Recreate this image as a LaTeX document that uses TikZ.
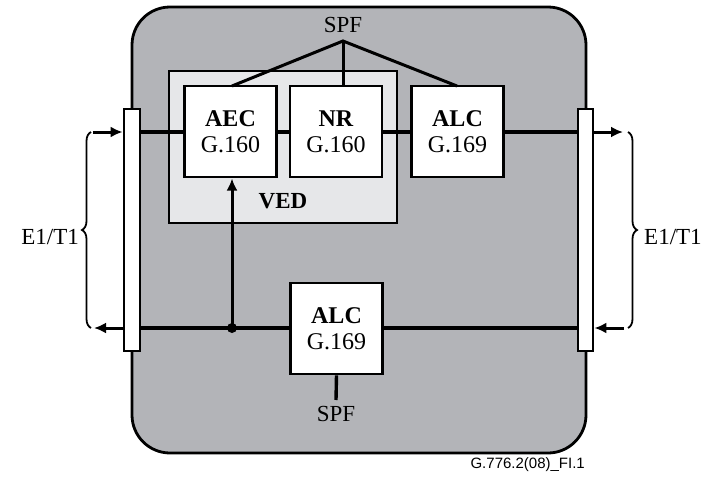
\documentclass[tikz,border=0pt]{standalone}
\usepackage{fontspec}
\setmainfont{Liberation Serif}
\newfontfamily\footfont{Liberation Sans}
\usetikzlibrary{arrows.meta,decorations.pathreplacing}
\definecolor{outergray}{HTML}{B3B4B8}
\definecolor{vedgray}{HTML}{E6E7E9}
\tikzset{
  blk/.style={draw=black,line width=2.8pt,fill=white,minimum width=92pt,minimum height=91pt,inner sep=0pt,align=center,font=\fontsize{24}{26}\selectfont},
  sig/.style={line width=3.4pt},
  arr/.style={line width=3pt,-{Latex[length=12pt,width=11pt]}},
  lbl/.style={font=\fontsize{23}{25}\selectfont,inner sep=0pt},
  bar/.style={draw=black,line width=2.8pt,fill=white},
  brace/.style={line width=1.8pt,decorate,decoration={brace,amplitude=9pt}}
}
\begin{document}
\begin{tikzpicture}[x=1pt,y=-1pt]
\useasboundingbox (0,0) rectangle (705,477);
% outer box
\draw[fill=outergray,line width=2.8pt,rounded corners=38pt] (132,7) rectangle (586,453);
% VED
\draw[fill=vedgray,line width=2.8pt] (169,71) rectangle (397,223);
\node[font=\bfseries\fontsize{23}{25}\selectfont] (ved) at (283,201) {VED};
% blocks
\node[blk] (aec) at (230.5,131.5) {\textbf{AEC}\\G.160};
\node[blk] (nr) at (336,131.5) {\textbf{NR}\\G.160};
\node[blk] (alc1) at (457.5,131.5) {\textbf{ALC}\\G.169};
\node[blk] (alc2) at (336.5,328.5) {\textbf{ALC}\\G.169};
% bars
\node[bar,minimum width=16pt,minimum height=242pt,inner sep=0pt] (lbar) at (132,230) {};
\node[bar,minimum width=15pt,minimum height=242pt,inner sep=0pt] (rbar) at (585.5,230) {};
% upper path
\draw[sig] (lbar.east |- 0,132) -- (aec.west |- 0,132);
\draw[sig] (aec.east |- 0,132) -- (nr.west |- 0,132);
\draw[sig] (nr.east |- 0,132) -- (alc1.west |- 0,132);
\draw[sig] (alc1.east |- 0,132) -- (rbar.west |- 0,132);
% lower path
\draw[sig] (rbar.west |- 0,328) -- (alc2.east |- 0,328);
\draw[sig] (alc2.west |- 0,328) -- (lbar.east |- 0,328);
\coordinate (jn) at (232,328);
\fill (jn) circle (5pt);
\draw[arr] (jn) -- (232,178.5);
% SPF top
\node[lbl] (spft) at (343,25) {SPF};
\coordinate (spfj) at (343,41);
\draw[line width=3pt,line join=miter] (232,86) -- (spfj) -- (457,86);
\draw[line width=3pt] (spfj) -- (spfj |- nr.north);
% SPF bottom
\node[lbl] (spfb) at (336,414) {SPF};
\draw[line width=3.4pt] (alc2.south) -- (336,400);
% external arrows left
\coordinate (lin) at (93,132);
\coordinate (lout) at (94,328);
\draw[arr] (lin) -- (lbar.west |- 0,132);
\draw[arr] (lbar.west |- 0,328) -- (lout);
\draw[brace] (91,328) -- (91,132);
\node[lbl,anchor=east] (e1l) at (79,237) {E1/T1};
% external arrows right
\coordinate (rout) at (623,132);
\coordinate (rin) at (624,328);
\draw[arr] (rbar.east |- 0,132) -- (rout);
\draw[arr] (rin) -- (rbar.east |- 0,328);
\draw[brace] (628,132) -- (628,328);
\node[lbl,anchor=west] (e1r) at (644,237) {E1/T1};
% footer
\node[font=\footfont\fontsize{15}{17}\selectfont,anchor=east,inner sep=0pt] (foot) at (585,465) {G.776.2(08)\_FI.1};
\end{tikzpicture}
\end{document}
